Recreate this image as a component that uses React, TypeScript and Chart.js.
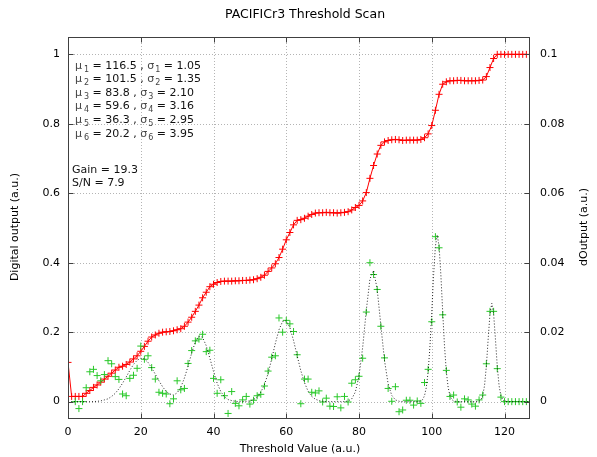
import React, { useEffect, useRef } from 'react';
import { Chart, registerables } from 'chart.js';

Chart.register(...registerables);

const FONT = '"DejaVu Sans", sans-serif';

const thresholds = [
  0, 1, 2, 3, 4, 5, 6, 7, 8, 9,
  10, 11, 12, 13, 14, 15, 16, 17, 18, 19,
  20, 21, 22, 23, 24, 25, 26, 27, 28, 29,
  30, 31, 32, 33, 34, 35, 36, 37, 38, 39,
  40, 41, 42, 43, 44, 45, 46, 47, 48, 49,
  50, 51, 52, 53, 54, 55, 56, 57, 58, 59,
  60, 61, 62, 63, 64, 65, 66, 67, 68, 69,
  70, 71, 72, 73, 74, 75, 76, 77, 78, 79,
  80, 81, 82, 83, 84, 85, 86, 87, 88, 89,
  90, 91, 92, 93, 94, 95, 96, 97, 98, 99,
  100, 101, 102, 103, 104, 105, 106, 107, 108, 109,
  110, 111, 112, 113, 114, 115, 116, 117, 118, 119,
  120, 121, 122, 123, 124, 125, 126,
];

const digitalOutput = [
  0.113, 0.015, 0.015, 0.015, 0.015, 0.024, 0.032, 0.041, 0.048, 0.056,
  0.065, 0.073, 0.082, 0.091, 0.099, 0.102, 0.107, 0.114, 0.123, 0.132,
  0.145, 0.159, 0.174, 0.186, 0.192, 0.197, 0.2, 0.201, 0.202, 0.204,
  0.207, 0.21, 0.217, 0.229, 0.243, 0.26, 0.278, 0.299, 0.315, 0.331,
  0.338, 0.343, 0.346, 0.347, 0.347, 0.347, 0.348, 0.348, 0.349, 0.349,
  0.35, 0.351, 0.354, 0.358, 0.364, 0.375, 0.385, 0.397, 0.415, 0.439,
  0.466, 0.487, 0.509, 0.522, 0.524, 0.528, 0.534, 0.539, 0.543, 0.544,
  0.544, 0.545, 0.544, 0.544, 0.543, 0.544, 0.545, 0.547, 0.552, 0.559,
  0.565, 0.578, 0.602, 0.643, 0.68, 0.713, 0.738, 0.748, 0.752, 0.754,
  0.755, 0.754, 0.752, 0.753, 0.753, 0.753, 0.753, 0.755, 0.76, 0.771,
  0.795, 0.839, 0.885, 0.914, 0.921, 0.924, 0.924, 0.925, 0.925, 0.924,
  0.924, 0.924, 0.924, 0.925, 0.926, 0.936, 0.962, 0.988, 1.0, 1.0,
  1.0, 1.0, 1.0, 1.0, 1.0, 1.0, 1.0,
];

const dOutput = [
  null, null, 0.0, -0.002, 0.0, 0.004, 0.0086, 0.0093, 0.0075, 0.006,
  0.0078, 0.0118, 0.0109, 0.0072, 0.0064, 0.0022, 0.0017, 0.0067, 0.0076, 0.0096,
  0.016, 0.0122, 0.0132, 0.0098, 0.0065, 0.0027, 0.0024, 0.0022, -0.0006, 0.0008,
  0.006, 0.0034, 0.0038, 0.011, 0.0147, 0.0175, 0.018, 0.0194, 0.0144, 0.0148,
  0.0067, 0.0024, 0.0063, 0.0017, -0.0034, 0.0029, -0.0005, -0.0012, 0.0005, 0.0015,
  -0.0007, 0.0004, 0.0017, 0.0021, 0.0045, 0.0088, 0.0128, 0.0132, 0.0241, 0.02,
  0.0234, 0.0224, 0.0202, 0.0135, -0.0006, 0.0065, 0.0065, 0.0027, 0.0025, 0.0031,
  -0.0001, 0.001, -0.0013, -0.0014, 0.0014, -0.0018, 0.0015, -0.0001, 0.0053, 0.0063,
  0.0073, 0.0125, 0.0258, 0.04, 0.0366, 0.0323, 0.0217, 0.0126, 0.0038, 0.0001,
  0.0043, -0.0029, -0.0024, 0.0004, 0.0004, -0.001, 0.0002, -0.0005, 0.0055, 0.0093,
  0.023, 0.0475, 0.0443, 0.025, 0.009, 0.0015, 0.0019, -0.0001, -0.0016, 0.0008,
  0.0005, -0.0007, -0.0013, 0.0005, 0.0019, 0.0109, 0.026, 0.026, 0.0095, 0.0013,
  0, 0, 0, 0, 0, 0, 0,
];

const fitX = [
  0, 1, 2, 3, 4, 5, 6, 7, 8, 9,
  10, 11, 12, 13, 14, 15, 16, 17, 18, 19,
  20, 21, 22, 23, 24, 25, 26, 27, 28, 29,
  30, 31, 32, 33, 34, 35, 36, 37, 38, 39,
  40, 41, 42, 43, 44, 45, 46, 47, 48, 49,
  50, 51, 52, 53, 54, 55, 56, 57, 58, 59,
  60, 61, 62, 63, 64, 65, 66, 67, 68, 69,
  70, 71, 72, 73, 74, 75, 76, 77, 78, 79,
  80, 81, 82, 83, 84, 85, 86, 87, 88, 89,
  90, 91, 92, 93, 94, 95, 96, 97, 97.5, 98,
  98.5, 99, 99.5, 100, 100.5, 101, 101.5, 102, 102.5, 103,
  103.5, 104, 104.5, 105, 105.5, 106, 107, 108, 109, 110,
  111, 112, 113, 113.5, 114, 114.5, 115, 115.5, 116, 116.5,
  117, 117.5, 118, 118.5, 119, 119.5, 120, 121, 122, 123,
  124, 125, 126, 127,
];

const fitY = [
  0, 0, 0, 0, 0, 0, 0, 0, 0.0001, 0.0002,
  0.0005, 0.0008, 0.0015, 0.0024, 0.0037, 0.0053, 0.0071, 0.009, 0.0107, 0.0119,
  0.0125, 0.0123, 0.0113, 0.0097, 0.0079, 0.006, 0.0043, 0.0029, 0.0022, 0.0019,
  0.0025, 0.0041, 0.0068, 0.0102, 0.014, 0.0172, 0.0189, 0.0185, 0.0161, 0.0125,
  0.0087, 0.0053, 0.0029, 0.0014, 0.0006, 0.0003, 0.0001, 0, 0, 0.0001,
  0.0002, 0.0006, 0.0013, 0.0027, 0.0049, 0.0081, 0.0123, 0.0168, 0.0207, 0.0231,
  0.0233, 0.0213, 0.0176, 0.0132, 0.0089, 0.0055, 0.003, 0.0015, 0.0007, 0.0003,
  0.0001, 0, 0, 0, 0, 0, 0, 0.0002, 0.0008, 0.0028,
  0.0074, 0.0156, 0.0263, 0.0353, 0.0378, 0.0323, 0.022, 0.0119, 0.0051, 0.0018,
  0.0005, 0.0001, 0, 0, 0, 0, 0, 0.0002, 0.0006, 0.0017,
  0.0041, 0.0086, 0.016, 0.0259, 0.0365, 0.0448, 0.048, 0.0448, 0.0365, 0.0259,
  0.016, 0.0086, 0.0041, 0.0017, 0.0006, 0.0002, 0, 0, 0, 0,
  0, 0, 0.0001, 0.0005, 0.0017, 0.0046, 0.0102, 0.018, 0.0253, 0.0283,
  0.0253, 0.018, 0.0102, 0.0046, 0.0017, 0.0005, 0.0001, 0, 0, 0,
  0, 0, 0, 0,
];

const xTicks = [0, 20, 40, 60, 80, 100, 120];
const xTickLabels = ['0', '20', '40', '60', '80', '100', '120'];
const yTicks = [0, 0.2, 0.4, 0.6, 0.8, 1];
const yTickLabels = ['0', '0.2', '0.4', '0.6', '0.8', '1'];
const y2Ticks = [0, 0.02, 0.04, 0.06, 0.08, 0.1];
const y2TickLabels = ['0', '0.02', '0.04', '0.06', '0.08', '0.1'];

const peakIndex = ['1', '2', '3', '4', '5', '6'];
const muValues = ['116.5', '101.5', '83.8', '59.6', '36.3', '20.2'];
const sigmaValues = ['1.05', '1.35', '2.10', '3.16', '2.95', '3.95'];
const gainText = 'Gain = 19.3';
const snText = 'S/N = 7.9';

const titleText = 'PACIFICr3 Threshold Scan';
const xTitle = 'Threshold Value (a.u.)';
const yTitle = 'Digital output (a.u.)';
const y2Title = 'dOutput (a.u.)';

type Part = { text: string; size: number; color: string; dy?: number; gap?: number };

function drawRich(ctx: CanvasRenderingContext2D, x: number, y: number, parts: Part[]) {
  let cx = x;
  for (const p of parts) {
    ctx.font = `${p.size}px ${FONT}`;
    ctx.fillStyle = p.color;
    ctx.fillText(p.text, cx, y + (p.dy || 0));
    cx += ctx.measureText(p.text).width + (p.gap || 0);
  }
}

const decorPlugin = {
  id: 'decor',
  beforeDatasetsDraw(chart: any) {
    const { ctx, chartArea: a, scales } = chart;
    ctx.save();
    ctx.strokeStyle = '#b4b4b4';
    ctx.lineWidth = 1;
    ctx.setLineDash([1, 2]);
    for (const v of xTicks) {
      if (v === 0) continue;
      const px = Math.round(scales.x.getPixelForValue(v)) + 0.5;
      ctx.beginPath();
      ctx.moveTo(px, a.top);
      ctx.lineTo(px, a.bottom);
      ctx.stroke();
    }
    for (const v of yTicks) {
      const py = Math.round(scales.y.getPixelForValue(v)) + 0.5;
      ctx.beginPath();
      ctx.moveTo(a.left, py);
      ctx.lineTo(a.right, py);
      ctx.stroke();
    }
    ctx.restore();
  },
  afterDatasetsDraw(chart: any) {
    const { ctx, chartArea: a, scales } = chart;
    ctx.save();
    ctx.setLineDash([]);
    ctx.strokeStyle = '#404040';
    ctx.lineWidth = 1;
    const L = Math.round(a.left) + 0.5;
    const R = Math.round(a.right) - 0.5;
    const T = Math.round(a.top) + 0.5;
    const B = Math.round(a.bottom) - 0.5;
    ctx.strokeRect(L, T, R - L, B - T);
    const tl = 5;
    ctx.beginPath();
    for (const v of xTicks) {
      const px = Math.round(scales.x.getPixelForValue(v)) + 0.5;
      ctx.moveTo(px, B);
      ctx.lineTo(px, B - tl);
      ctx.moveTo(px, T);
      ctx.lineTo(px, T + tl);
    }
    for (const v of yTicks) {
      const py = Math.round(scales.y.getPixelForValue(v)) + 0.5;
      ctx.moveTo(L, py);
      ctx.lineTo(L + tl, py);
    }
    for (const v of y2Ticks) {
      const py = Math.round(scales.y2.getPixelForValue(v)) + 0.5;
      ctx.moveTo(R, py);
      ctx.lineTo(R - tl, py);
    }
    ctx.stroke();

    // annotation text
    ctx.textAlign = 'left';
    ctx.textBaseline = 'alphabetic';
    const symColor = '#444';
    const txtColor = '#111';
    for (let i = 0; i < muValues.length; i++) {
      const y = 68.5 + 13.6 * i;
      drawRich(ctx, 75, y, [
        { text: 'μ', size: 11, color: symColor, gap: 2 },
        { text: peakIndex[i], size: 8, color: symColor, dy: 3, gap: 0 },
        { text: ` = ${muValues[i]} , `, size: 11, color: txtColor },
        { text: 'σ', size: 11, color: symColor, gap: 1 },
        { text: peakIndex[i], size: 8, color: symColor, dy: 3 },
        { text: ` = ${sigmaValues[i]}`, size: 11, color: txtColor },
      ]);
    }
    ctx.font = `11px ${FONT}`;
    ctx.fillStyle = txtColor;
    ctx.fillText(gainText, 72, 173);
    ctx.fillText(snText, 72, 186);

    // titles
    ctx.fillStyle = '#000';
    ctx.textAlign = 'center';
    ctx.textBaseline = 'middle';
    ctx.font = `12.5px ${FONT}`;
    ctx.fillText(titleText, 305, 15);
    ctx.font = `11px ${FONT}`;
    ctx.fillText(xTitle, 300, 449);
    ctx.save();
    ctx.translate(15, 227);
    ctx.rotate(-Math.PI / 2);
    ctx.fillText(yTitle, 0, 0);
    ctx.restore();
    ctx.save();
    ctx.translate(584, 227);
    ctx.rotate(-Math.PI / 2);
    ctx.fillText(y2Title, 0, 0);
    ctx.restore();
    ctx.restore();
  },
};

function makeTicks(values: number[]) {
  return (scale: any) => {
    scale.ticks = values.map((v) => ({ value: v }));
  };
}

export default function App() {
  const ref = useRef<HTMLCanvasElement>(null);
  useEffect(() => {
    const canvas = ref.current;
    if (!canvas) return;
    const redData = thresholds.map((x, i) => ({ x, y: digitalOutput[i] }));
    const greenData = thresholds
      .map((x, i) => ({ x, y: dOutput[i] }))
      .filter((p) => p.y !== null);
    const fitData = fitX.map((x, i) => ({ x, y: fitY[i] }));
    const tickFont = { family: FONT, size: 11 };
    const chart = new Chart(canvas, {
      type: 'scatter',
      data: {
        datasets: [
          {
            label: 'fit',
            data: fitData,
            yAxisID: 'y2',
            showLine: true,
            borderColor: 'rgba(0,0,0,0.85)',
            borderWidth: 1,
            borderDash: [1, 2],
            pointRadius: 0,
            fill: false,
          },
          {
            label: 'dOutput',
            data: greenData as any,
            yAxisID: 'y2',
            showLine: false,
            pointStyle: 'cross',
            pointRadius: 3.5,
            pointBorderWidth: 1,
            borderColor: 'rgb(40,200,40)',
            backgroundColor: 'rgb(40,200,40)',
          },
          {
            label: 'Digital output',
            data: redData,
            yAxisID: 'y',
            showLine: true,
            borderColor: 'rgb(255,0,0)',
            backgroundColor: 'rgb(255,0,0)',
            borderWidth: 1,
            pointStyle: 'cross',
            pointRadius: 3.5,
            pointBorderWidth: 1,
            tension: 0,
          },
        ],
      },
      options: {
        animation: false,
        responsive: false,
        devicePixelRatio: 1,
        layout: { padding: { top: 37, left: 0, right: 0, bottom: 0 } },
        plugins: {
          legend: { display: false },
          title: { display: false },
          tooltip: { enabled: false },
        },
        scales: {
          x: {
            type: 'linear',
            position: 'bottom',
            min: 0,
            max: 127,
            grid: { display: false, drawTicks: false },
            border: { display: false },
            afterBuildTicks: makeTicks(xTicks),
            afterFit: (s: any) => {
              s.height = 38;
            },
            ticks: {
              autoSkip: false,
              maxRotation: 0,
              padding: 7,
              color: '#000',
              font: tickFont,
              callback: (v: any) => xTickLabels[xTicks.indexOf(Number(v))] ?? '',
            },
          },
          y: {
            type: 'linear',
            position: 'left',
            min: -0.05,
            max: 1.05,
            grid: { display: false, drawTicks: false },
            border: { display: false },
            afterBuildTicks: makeTicks(yTicks),
            afterFit: (s: any) => {
              s.width = 68;
            },
            ticks: {
              autoSkip: false,
              padding: 8,
              color: '#000',
              font: tickFont,
              callback: (v: any) => yTickLabels[yTicks.indexOf(Number(v))] ?? '',
            },
          },
          y2: {
            type: 'linear',
            position: 'right',
            min: -0.005,
            max: 0.105,
            grid: { display: false, drawTicks: false },
            border: { display: false },
            afterBuildTicks: makeTicks(y2Ticks),
            afterFit: (s: any) => {
              s.width = 67;
            },
            ticks: {
              autoSkip: false,
              padding: 10,
              color: '#000',
              font: tickFont,
              callback: (v: any) => y2TickLabels[y2Ticks.indexOf(Number(v))] ?? '',
            },
          },
        },
      },
      plugins: [decorPlugin],
    });
    return () => chart.destroy();
  }, []);
  return (
    <div style={{ position: 'absolute', left: 0, top: 0, width: 597, height: 457, background: '#fff' }}>
      <canvas ref={ref} width={597} height={457} style={{ display: 'block', width: 597, height: 457 }} />
    </div>
  );
}
